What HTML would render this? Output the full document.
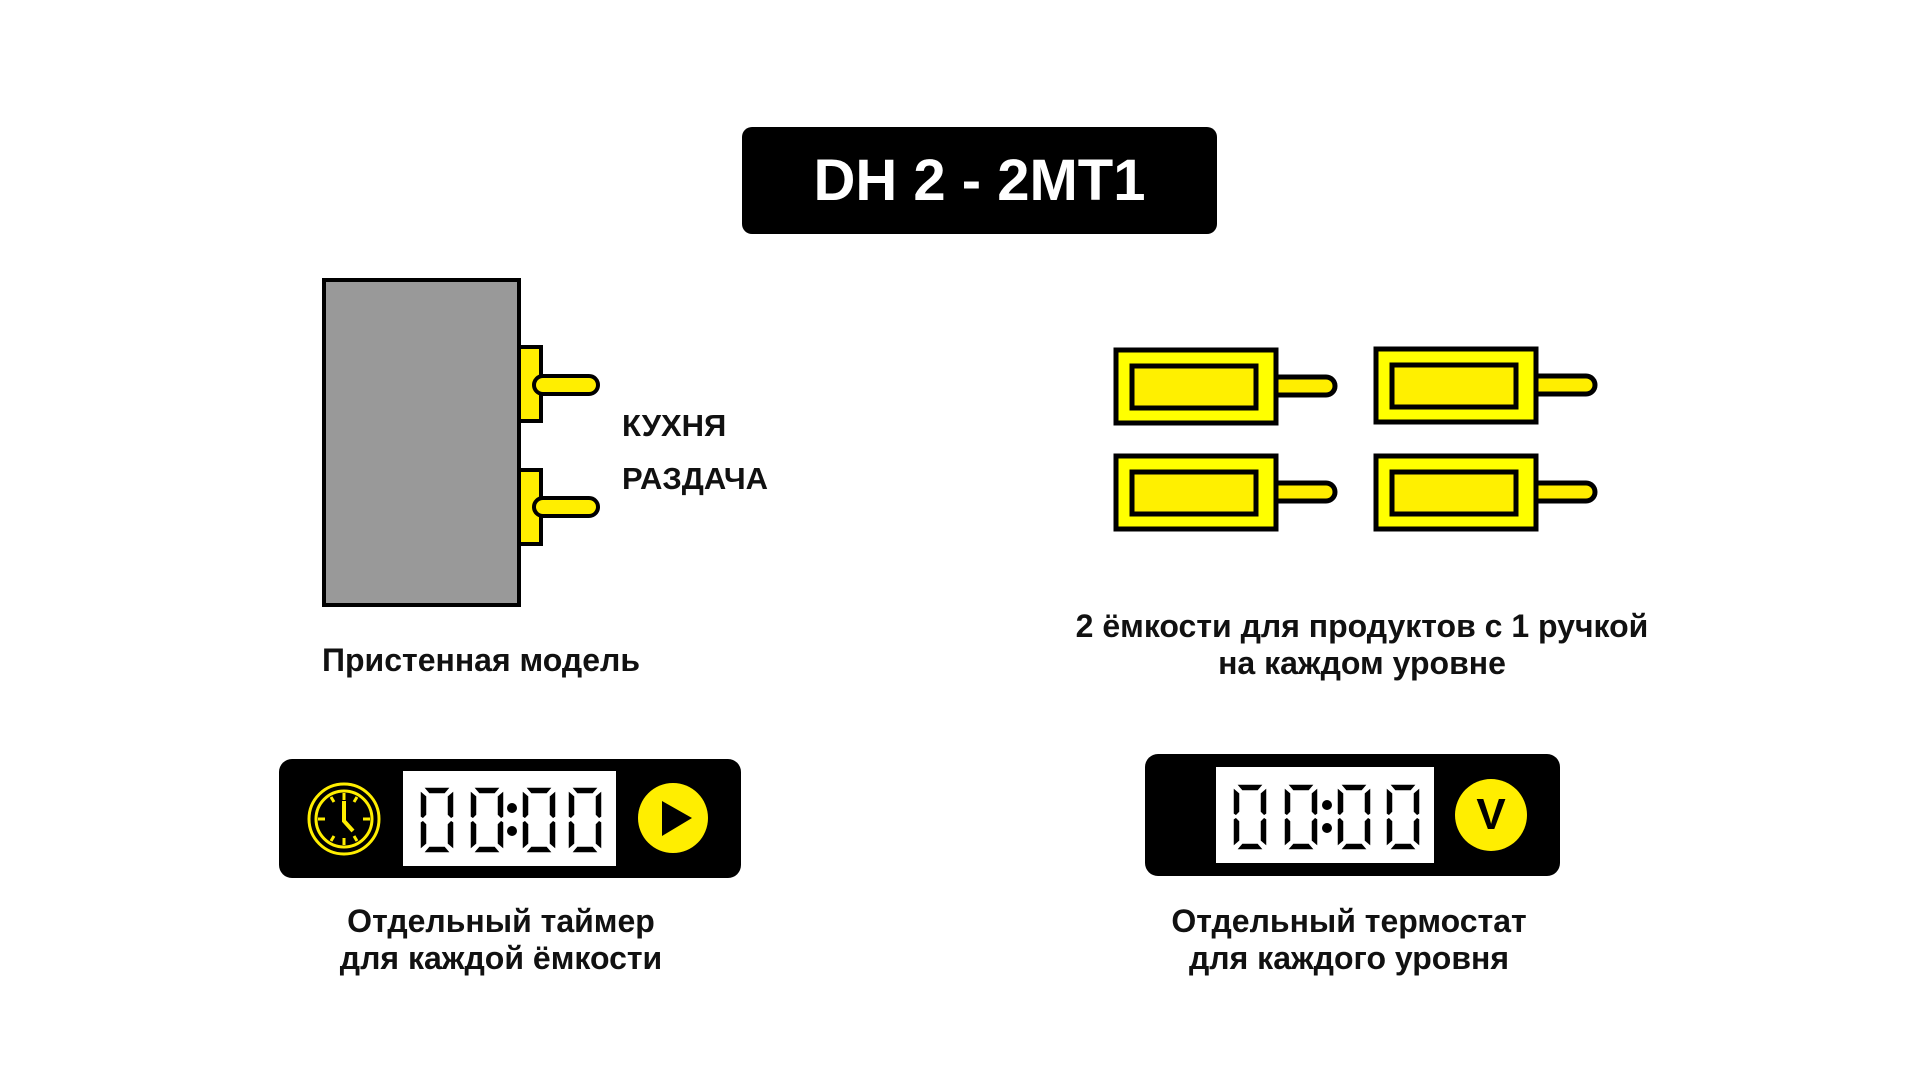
<!DOCTYPE html>
<html><head><meta charset="utf-8"><style>
body{margin:0;width:1920px;height:1080px;background:#fff;position:relative;overflow:hidden;font-family:"Liberation Sans",sans-serif;font-weight:bold;color:#111}
.a{position:absolute}
.t{position:absolute;text-align:center;transform:translateX(-50%);white-space:nowrap;line-height:37px;font-size:32px}
</style></head><body>
<div class="a" style="left:742px;top:127px;width:475px;height:107px;background:#000;border-radius:10px;color:#fff;font-size:58px;text-align:center;line-height:107px">DH 2 - 2MT1</div>

<svg class="a" style="left:0;top:0" width="1920" height="1080">
<defs>
<g id="d" fill="#000" stroke="#fff" stroke-width="1.5" stroke-linejoin="miter">
<polygon points="4,1 32,1 26,8 10,8"/>
<polygon points="1,4 8,10 8,29 4,33 1,31"/>
<polygon points="35,4 28,10 28,29 32,33 35,31"/>
<polygon points="1,36 4,34 8,38 8,58 1,64"/>
<polygon points="35,36 32,34 28,38 28,58 35,64"/>
<polygon points="4,67 32,67 26,60 10,60"/>
</g>
<g id="c" fill="#000"><circle cx="0" cy="22" r="5"/><circle cx="0" cy="45" r="5"/></g>
</defs>
<rect x="324" y="280" width="195" height="325" fill="#999" stroke="#000" stroke-width="4"/>
<rect x="519" y="347" width="22" height="74" fill="#ffee00" stroke="#000" stroke-width="4"/>
<rect x="519" y="470" width="22" height="74" fill="#ffee00" stroke="#000" stroke-width="4"/>
<rect x="534" y="376" width="64" height="18" rx="9" fill="#ffee00" stroke="#000" stroke-width="4"/>
<rect x="534" y="498" width="64" height="18" rx="9" fill="#ffee00" stroke="#000" stroke-width="4"/>
<g id="p">
<rect x="1266" y="377" width="69" height="18" rx="9" fill="#ffee00" stroke="#000" stroke-width="5"/>
<rect x="1116" y="350" width="160" height="73" fill="#ffff00" stroke="#000" stroke-width="5"/>
<rect x="1132" y="366" width="124" height="42" fill="#fff000" stroke="#000" stroke-width="5"/>
</g>
<use href="#p" x="260" y="-1"/>
<use href="#p" x="0" y="106"/>
<use href="#p" x="260" y="106"/>
<rect x="279" y="759" width="462" height="119" rx="13" fill="#000"/>
<rect x="403" y="771" width="213" height="95" fill="#fff"/>
<g stroke="#ffee00" fill="none" stroke-width="3">
<circle cx="344" cy="819" r="35"/><circle cx="344" cy="819" r="28"/>
<path d="M344 793v7M344 838v7M318 819h7M363 819h7M331 797l3 5M357 797l-3 5M331 841l3-5M357 841l-3-5"/>
<path d="M344 801v20l9 10" stroke-width="4"/>
</g>
<circle cx="673" cy="818" r="35" fill="#ffee00"/>
<polygon points="662,801 662,836 692,818" fill="#000"/>
<use href="#d" x="419" y="786"/><use href="#d" x="469" y="786"/><use href="#c" x="512" y="786"/>
<use href="#d" x="521" y="786"/><use href="#d" x="567" y="786"/>
<rect x="1145" y="754" width="415" height="122" rx="13" fill="#000"/>
<rect x="1216" y="767" width="218" height="96" fill="#fff"/>
<circle cx="1491" cy="815" r="36" fill="#ffee00"/>
<use href="#d" x="1232" y="783"/><use href="#d" x="1283" y="783"/><use href="#c" x="1327" y="783"/>
<use href="#d" x="1336" y="783"/><use href="#d" x="1385" y="783"/>
</svg>
<div class="a" style="left:1491px;top:815px;transform:translate(-50%,-50%);font-size:44px;color:#000">V</div>

<div class="a" style="left:622px;top:408px;font-size:31px">КУХНЯ</div>
<div class="a" style="left:622px;top:461px;font-size:31px">РАЗДАЧА</div>
<div class="t" style="left:481px;top:642px">Пристенная модель</div>
<div class="t" style="left:1362px;top:608px">2 ёмкости для продуктов с 1 ручкой<br>на каждом уровне</div>
<div class="t" style="left:501px;top:903px">Отдельный таймер<br>для каждой ёмкости</div>
<div class="t" style="left:1349px;top:903px">Отдельный термостат<br>для каждого уровня</div>
</body></html>
